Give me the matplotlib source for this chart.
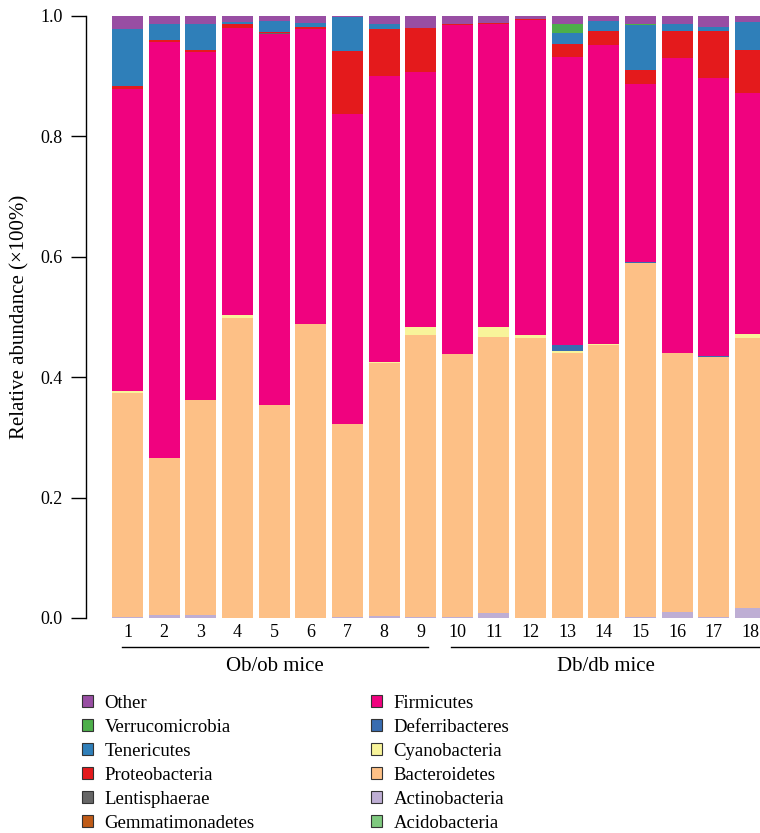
import matplotlib
matplotlib.use("Agg")
import matplotlib.pyplot as plt
from matplotlib.patches import Patch
import numpy as np

plt.rcParams['font.family'] = ['Liberation Serif', 'DejaVu Serif']

samples = [str(i) for i in range(1, 19)]

# stacking order, bottom to top
phyla = ['Acidobacteria', 'Actinobacteria', 'Bacteroidetes', 'Cyanobacteria',
         'Deferribacteres', 'Firmicutes', 'Gemmatimonadetes', 'Lentisphaerae',
         'Proteobacteria', 'Tenericutes', 'Verrucomicrobia', 'Other']
colors = ['#7FC97F', '#BEAED4', '#FDC086', '#F8F49A', '#386CB0', '#F0027F',
          '#BF5B17', '#666666', '#E41A1C', '#2F7FB9', '#4DAF4A', '#984EA3']

acidobacteria = [0] * 18
actinobacteria = [0.002, 0.005, 0.005, 0, 0, 0, 0.002, 0.0035, 0.002,
                  0.002, 0.0083, 0, 0, 0, 0.002, 0.010, 0.002, 0.0166]
bacteroidetes = [0.372, 0.260, 0.357, 0.498, 0.353, 0.488, 0.321, 0.420, 0.468,
                 0.437, 0.458, 0.465, 0.440, 0.4535, 0.587, 0.430, 0.431, 0.4485]
cyanobacteria = [0.003, 0, 0, 0.005, 0, 0, 0, 0.002, 0.0133,
                 0, 0.0166, 0.005, 0.0033, 0.002, 0, 0, 0, 0.0066]
deferribacteres = [0, 0, 0, 0, 0, 0, 0, 0, 0,
                   0, 0, 0, 0.010, 0, 0.002, 0, 0.002, 0]
firmicutes = [0.501, 0.692, 0.578, 0.477, 0.617, 0.490, 0.515, 0.475, 0.424,
              0.546, 0.503, 0.523, 0.478, 0.497, 0.2965, 0.4905, 0.4623, 0.4003]
gemmatimonadetes = [0] * 18
lentisphaerae = [0.001, 0, 0.001, 0, 0.001, 0, 0, 0, 0,
                 0, 0, 0, 0, 0, 0, 0, 0, 0]
proteobacteria = [0.004, 0.0033, 0.0033, 0.0066, 0.002, 0.004, 0.104, 0.0775, 0.073,
                  0.002, 0.002, 0.002, 0.022, 0.022, 0.0233, 0.0443, 0.0775, 0.072]
tenericutes = [0.095, 0.0266, 0.043, 0.004, 0.0188, 0.0066, 0.0565, 0.0089, 0,
               0, 0, 0, 0.0177, 0.0166, 0.0742, 0.0122, 0.0066, 0.0465]
verrucomicrobia = [0, 0, 0, 0, 0, 0, 0, 0, 0,
                   0, 0, 0, 0.015, 0, 0.002, 0, 0, 0]
other = [0.0227, 0.0127, 0.0127, 0.009, 0.0094, 0.011, 0.0017, 0.0127, 0.0194,
         0.0127, 0.0116, 0.005, 0.0133, 0.0094, 0.0127, 0.0127, 0.0183, 0.0094]

series = [acidobacteria, actinobacteria, bacteroidetes, cyanobacteria,
          deferribacteres, firmicutes, gemmatimonadetes, lentisphaerae,
          proteobacteria, tenericutes, verrucomicrobia, other]

groups = ['Ob/ob mice', 'Db/db mice']

fig = plt.figure(figsize=(7.6, 8.33), dpi=100)
ax = fig.add_axes([86 / 760, 1 - 618 / 833, 1 - 86 / 760, 602 / 833])

x = np.arange(len(samples))
bottom = np.zeros(len(samples))
for name, vals, c in zip(phyla, series, colors):
    vals = np.array(vals, dtype=float)
    ax.bar(x, vals, bottom=bottom, width=0.846, color=c, linewidth=0, label=name)
    bottom += vals

ax.set_xlim(-1.132, 17.26)
ax.set_ylim(0, 1)
ax.set_yticks([0, 0.2, 0.4, 0.6, 0.8, 1.0])
ax.set_yticklabels(['0.0', '0.2', '0.4', '0.6', '0.8', '1.0'])
ax.set_xticks(x)
ax.set_xticklabels(samples)
ax.tick_params(axis='y', length=11, width=1, direction='out', pad=6, labelsize=13)
ax.tick_params(axis='x', length=0, pad=4, labelsize=13)
for s in ['top', 'right', 'bottom']:
    ax.spines[s].set_visible(False)
ax.spines['left'].set_linewidth(1)

ax.set_ylabel('Relative abundance (×100%)', fontsize=15)
ax.yaxis.set_label_coords(-0.084, 0.5)

# group brackets under the sample numbers
trans = ax.get_xaxis_transform()
spans = [(-0.15, 8.2), (8.83, 17.3)]
for g, (x0, x1) in zip(groups, spans):
    ax.plot([x0, x1], [-0.048, -0.048], color='black', lw=1, transform=trans, clip_on=False)
    ax.text((x0 + x1) / 2, -0.080, g, transform=trans, ha='center', va='center', fontsize=15)

# legend: two columns, top-to-bottom reversed stacking order
handles = [Patch(facecolor=c, edgecolor='#333333', linewidth=0.8, label=n)
           for n, c in zip(phyla, colors)][::-1]
kw = dict(frameon=False, fontsize=13.5, handlelength=0.6, handleheight=0.6,
          handletextpad=0.6, labelspacing=0.37, borderpad=0, borderaxespad=0,
          loc='upper left')
fig.legend(handles=handles[:6], bbox_to_anchor=(82 / 760, 1 - 695 / 833), **kw)
fig.legend(handles=handles[6:], bbox_to_anchor=(371 / 760, 1 - 695 / 833), **kw)

fig.savefig('out.png', dpi=100)
